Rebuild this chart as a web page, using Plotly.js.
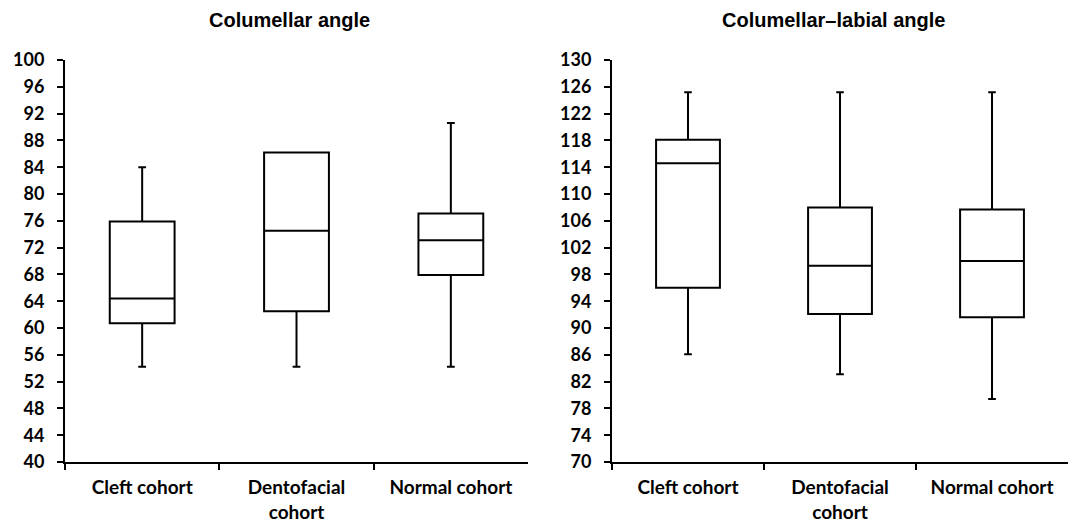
<!DOCTYPE html>
<html>
<head>
<meta charset="utf-8">
<script src="https://cdn.plot.ly/plotly-3.0.1.min.js"></script>
<style>html,body{margin:0;padding:0;background:#fff;}#chart{width:1077px;height:523px;}</style>
</head>
<body>
<div id="chart"></div>
<script>
// Categories and tick labels
const categories = ["Cleft cohort", "Dentofacial cohort", "Normal cohort"];
const tickLabels = ["Cleft cohort", "Dentofacial<br>cohort", "Normal cohort"];

// Columellar angle (left panel)
const colLower  = [54.2, 54.2, 54.2];
const colQ1     = [60.7, 62.5, 67.9];
const colMedian = [64.4, 74.5, 73.1];
const colQ3     = [75.9, 86.2, 77.1];
const colUpper  = [84.0, 86.2, 90.6];

// Columellar-labial angle (right panel)
const labLower  = [86.1, 83.1, 79.4];
const labQ1     = [96.0, 92.1, 91.6];
const labMedian = [114.6, 99.3, 100.0];
const labQ3     = [118.1, 108.0, 107.7];
const labUpper  = [125.2, 125.2, 125.2];

const FONT = "Lato, 'Open Sans', 'Liberation Sans', sans-serif";
const TITLE_FONT = "'Liberation Sans', Arial, sans-serif";

function boxTrace(lower, q1, med, q3, upper, xa, ya) {
  return {
    type: "box",
    x: categories,
    lowerfence: lower, q1: q1, median: med, q3: q3, upperfence: upper,
    xaxis: xa, yaxis: ya,
    boxpoints: false,
    width: 0.42,
    whiskerwidth: 0.12,
    fillcolor: "#ffffff",
    line: {color: "#000000", width: 2},
    hoverinfo: "skip",
    showlegend: false
  };
}

const data = [
  boxTrace(colLower, colQ1, colMedian, colQ3, colUpper, "x", "y"),
  boxTrace(labLower, labQ1, labMedian, labQ3, labUpper, "x2", "y2")
];

function xAxis(domain, anchor) {
  return {
    domain: domain, anchor: anchor,
    type: "category",
    categoryorder: "array", categoryarray: categories,
    tickmode: "array", tickvals: categories, ticktext: tickLabels,
    range: [-0.5, 2.4999],
    tickson: "boundaries",
    ticks: "outside", ticklen: 6, tickwidth: 2, tickcolor: "#000",
    showline: true, linecolor: "#000", linewidth: 2,
    showgrid: false, zeroline: false,
    ticklabelstandoff: 7,
    tickfont: {family: FONT, size: 19, color: "#000", weight: "bold"}
  };
}
function yAxis(range, anchor) {
  return {
    anchor: anchor,
    domain: [0, 1],
    range: range, tickmode: "linear", tick0: range[0], dtick: 4,
    ticks: "outside", ticklen: 6, tickwidth: 2, tickcolor: "#000",
    showline: true, linecolor: "#000", linewidth: 2,
    showgrid: false, zeroline: false,
    ticklabelstandoff: 9,
    tickfont: {family: FONT, size: 18, color: "#000", weight: "bold"}
  };
}

const layout = {
  width: 1077, height: 523,
  margin: {l: 0, r: 0, t: 60, b: 61},
  paper_bgcolor: "#fff", plot_bgcolor: "#fff",
  font: {family: FONT, color: "#000"},
  xaxis: xAxis([65/1077, 528/1077], "y"),
  yaxis: yAxis([40, 100], "x"),
  xaxis2: xAxis([612/1077, 1068/1077], "y2"),
  yaxis2: yAxis([70, 130], "x2"),
  annotations: [
    {text: "<b>Columellar angle</b>", xref: "paper", yref: "paper",
     x: 289 / 1077, y: 1 + 40/402, xanchor: "center", yanchor: "middle",
     showarrow: false, font: {family: TITLE_FONT, size: 20, color: "#000"}},
    {text: "<b>Columellar–labial angle</b>", xref: "paper", yref: "paper",
     x: 833 / 1077, y: 1 + 40/402, xanchor: "center", yanchor: "middle",
     showarrow: false, font: {family: TITLE_FONT, size: 20, color: "#000"}}
  ]
};

Plotly.newPlot("chart", data, layout, {displayModeBar: false, staticPlot: true});
</script>
</body>
</html>
